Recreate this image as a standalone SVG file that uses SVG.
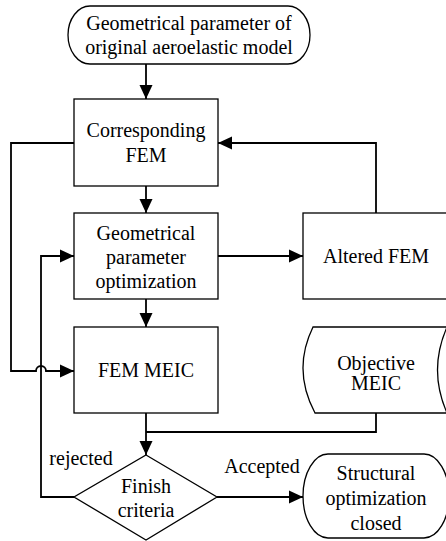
<svg xmlns="http://www.w3.org/2000/svg" width="446" height="541" viewBox="0 0 446 541">
<defs>
<style>
.n{fill:#fff;stroke:#000;stroke-width:1.3}
.c{fill:none;stroke:#000;stroke-width:1.8}
.t{font-family:'Liberation Serif','DejaVu Serif',serif;font-size:20px;fill:#000;text-anchor:middle}
</style>
<marker id="a" markerUnits="userSpaceOnUse" markerWidth="14" markerHeight="14" viewBox="0 0 14 14" refX="14" refY="7" orient="auto">
<path d="M0,0.5 L14,7 L0,13.5 Z" fill="#000"/>
</marker>
</defs>
<rect width="446" height="541" fill="#fff"/>
<g id="connectors">
<path class="c" d="M146,64 V99" marker-end="url(#a)"/>
<path class="c" d="M146,186 V213" marker-end="url(#a)"/>
<path class="c" d="M146,299 V327" marker-end="url(#a)"/>
<path class="c" d="M218,256 H303" marker-end="url(#a)"/>
<path class="c" d="M376,213 V143 H218" marker-end="url(#a)"/>
<path class="c" d="M74,143 H11 V371 H36 A5,5 0 0 1 46,371 H74" marker-end="url(#a)"/>
<path class="c" d="M74,497 H41 V256 H74" marker-end="url(#a)"/>
<path class="c" d="M376,413 V432 H146"/>
<path class="c" d="M146,413 V455" marker-end="url(#a)"/>
<path class="c" d="M217,497 H303" marker-end="url(#a)"/>
</g>
<g class="t" font-family="Liberation Serif, serif">
<g id="start">
<rect class="n" x="68" y="6" width="242" height="58" rx="22" ry="29"/>
<text x="189" y="30">Geometrical parameter of</text>
<text x="189" y="54">original aeroelastic model</text>
</g>
<g id="corresponding-fem">
<rect class="n" x="74" y="99" width="144" height="87"/>
<text x="146" y="137">Corresponding</text>
<text x="146" y="162">FEM</text>
</g>
<g id="geo-opt">
<rect class="n" x="74" y="213" width="144" height="86"/>
<text x="146" y="240">Geometrical</text>
<text x="146" y="264">parameter</text>
<text x="146" y="288">optimization</text>
</g>
<g id="altered-fem">
<rect class="n" x="303" y="213" width="146" height="86"/>
<text x="376" y="263">Altered FEM</text>
</g>
<g id="fem-meic">
<rect class="n" x="74" y="327" width="144" height="86"/>
<text x="146" y="377">FEM MEIC</text>
</g>
<g id="objective-meic">
<path class="n" d="M313,327 H447 Q428,370 447,413 H315 Q292,370 313,327 Z"/>
<text x="376" y="370">Objective</text>
<text x="376" y="390">MEIC</text>
</g>
<g id="finish">
<path class="n" d="M146,455 L217,497 L146,540 L74,497 Z"/>
<text x="146" y="493">Finish</text>
<text x="146" y="517">criteria</text>
</g>
<g id="closed">
<rect class="n" x="303" y="454" width="146" height="84" rx="25" ry="42"/>
<text x="376" y="480">Structural</text>
<text x="376" y="505">optimization</text>
<text x="376" y="530">closed</text>
</g>
<g id="labels">
<text x="81" y="465">rejected</text>
<text x="262" y="473">Accepted</text>
</g>
</g>
</svg>
